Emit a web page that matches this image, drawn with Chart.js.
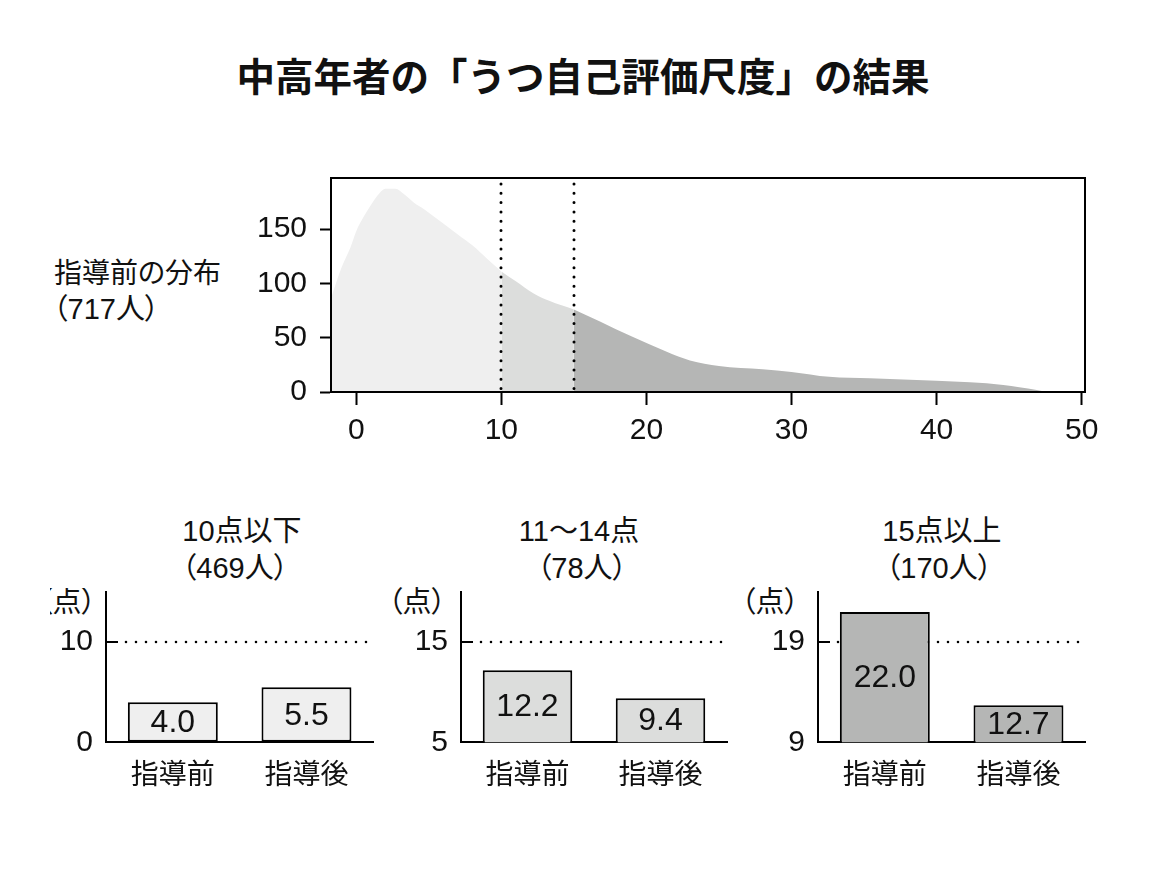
<!DOCTYPE html>
<html><head><meta charset="utf-8">
<script src="https://cdn.jsdelivr.net/npm/chart.js@4"></script>
<style>
body{margin:0;background:#fff;width:1166px;height:881px;position:relative;overflow:hidden;font-family:'Liberation Sans','Noto Sans CJK JP',sans-serif;color:#111}
.t{position:absolute;white-space:nowrap;line-height:1;font-size:29px;font-feature-settings:"palt"}
.c{transform:translateX(-50%)}
.box{position:absolute}
</style></head><body>
<div class="t c" style="left:583px;top:55px;font-size:38.5px;font-weight:bold;font-family:'Noto Sans CJK JP',sans-serif;font-feature-settings:normal">中高年者の「うつ自己評価尺度」の結果</div>
<div class="t" style="left:54px;top:260px;font-size:28px">指導前の分布</div>
<div class="t" style="left:53px;top:295px">（717人）</div>
<div class="box" style="left:0;top:150px;width:1166px;height:310px"><canvas id="dist"></canvas></div>
<div id="bars"></div>
<script>
// ---- distribution (before guidance, 717 people) ----
const scoreX = [-1.7,-1.0,-0.4,0,0.5,1.0,1.6,2.0,2.7,3.3,4.0,4.7,6.0,7.0,8.0,9.0,10.0,11.0,12.2,13.3,15.0,16.8,19.0,21.4,23.0,25.0,28.0,30.0,32.6,35.4,40.0,42.3,44.6,45.7,46.9,47.6];
const countY = [88,115,133,148,161,172,183,187,187,182,174,168,155,145,135,123,111,102,91,84,76,65,51,37,29,24,21,18.5,14,12.6,10.4,8.9,6.5,4.3,1.8,0];
const cutoffs = [10, 15];
const distXTicks = [0,10,20,30,40,50];
const distYTicks = [0,50,100,150];
// ---- group comparison ----
const groupNames = ['10点以下','11〜14点','15点以上'];
const groupCounts = ['（469人）','（78人）','（170人）'];
const phases = ['指導前','指導後'];
const beforeScores = [4.0, 12.2, 22.0];
const afterScores = [5.5, 9.4, 12.7];
const refValues = [10, 15, 19];
const axisMins = [0, 5, 9];
const axisMaxs = [15, 20, 24];
const shades = ['#efefef','#dcdddc','#b5b6b5'];

const NUM_FONT = "'Liberation Sans', 'Noto Sans CJK JP', sans-serif";
Chart.defaults.font.family = "'Noto Sans CJK JP', sans-serif";
Chart.defaults.font.size = 28;
Chart.defaults.color = '#111';
Chart.defaults.animation = false;
Chart.defaults.responsive = true;
Chart.defaults.maintainAspectRatio = false;

const pts = scoreX.map((x,i)=>({x, y: countY[i]}));
const bounds = [-Infinity, ...cutoffs, Infinity];
const areaSets = shades.map((c,i)=>({
  type:'line',
  data: pts.filter(p=>p.x>=bounds[i] && p.x<=bounds[i+1]),
  fill:'origin', backgroundColor:c, borderWidth:0, pointRadius:0,
  cubicInterpolationMode:'monotone'
}));

const boxAndCuts = {
  id:'boxAndCuts',
  afterDatasetsDraw(chart){
    const {ctx, chartArea:a, scales:{x}} = chart;
    ctx.save();
    ctx.strokeStyle='#000'; ctx.lineWidth=3; ctx.lineCap='round';
    ctx.setLineDash([0,9.3]);
    cutoffs.forEach(v=>{
      const px = Math.round(x.getPixelForValue(v));
      ctx.beginPath(); ctx.moveTo(px, a.top+6); ctx.lineTo(px, a.bottom); ctx.stroke();
    });
    ctx.setLineDash([]); ctx.lineWidth=2; ctx.lineCap='butt';
    ctx.strokeRect(a.left, a.top, a.right-a.left, a.bottom-a.top);
    ctx.restore();
  }
};
function noPad(s){ s.paddingTop = 0; s.paddingBottom = 0; s.paddingLeft = 0; s.paddingRight = 0; }

new Chart(document.getElementById('dist'), {
  type:'line',
  data:{datasets: areaSets},
  options:{
    layout:{padding:{top:28,right:81,left:0,bottom:0}},
    plugins:{legend:{display:false},tooltip:{enabled:false}},
    scales:{
      x:{type:'linear', min:-1.74, max:50.23,
        afterBuildTicks(s){ s.ticks = distXTicks.map(v=>({value:v})); },
        afterFit(s){ s.height = 68; noPad(s); },
        ticks:{padding:8, maxRotation:0, font:{family:NUM_FONT, size:30}},
        grid:{drawOnChartArea:false, drawTicks:true, tickLength:13, tickWidth:2, tickColor:'#000'},
        border:{display:true,color:'#000',width:2}},
      y:{type:'linear', min:0, max:197,
        afterBuildTicks(s){ s.ticks = distYTicks.map(v=>({value:v})); },
        afterFit(s){ s.width = 331; noPad(s); },
        ticks:{padding:13, font:{family:NUM_FONT, size:30}},
        grid:{drawOnChartArea:false, drawTicks:true, tickLength:11, tickWidth:2, tickColor:'#000'},
        border:{display:true,color:'#000',width:2}}
    }
  },
  plugins:[boxAndCuts]
});

// ---- bar charts ----
const areas = [[105.7,373],[460.7,726.7],[817.7,1085]];
const titleCenters = [[242,235],[579,582],[942,939]];
const unitLeft = [38,388,741];
const barsHost = document.getElementById('bars');

const refPlugin = {
  id:'refLine',
  beforeDatasetsDraw(chart, args, opts){
    const {ctx, chartArea:a, scales:{y}} = chart;
    const py = Math.round(y.getPixelForValue(opts.value));
    ctx.save();
    ctx.strokeStyle='#000'; ctx.lineWidth=2;
    ctx.beginPath(); ctx.moveTo(a.left, py); ctx.lineTo(a.left+12, py); ctx.stroke();
    ctx.lineCap='round'; ctx.lineWidth=2.6; ctx.setLineDash([0,10]);
    ctx.beginPath(); ctx.moveTo(a.left+20, py); ctx.lineTo(a.right, py); ctx.stroke();
    ctx.restore();
  }
};
const valuePlugin = {
  id:'values',
  afterDatasetsDraw(chart){
    const {ctx, scales:{y}} = chart;
    const meta = chart.getDatasetMeta(0);
    const basePx = y.getPixelForValue(y.min);
    ctx.save();
    ctx.fillStyle='#111'; ctx.font = "32px " + NUM_FONT;
    ctx.textAlign='center'; ctx.textBaseline='middle';
    meta.data.forEach((bar,i)=>{
      const v = chart.data.datasets[0].data[i];
      ctx.fillText(v.toFixed(1), bar.x, (bar.y+basePx)/2 + 1);
    });
    ctx.restore();
  }
};

groupNames.forEach((g,i)=>{
  const [L,R] = areas[i];
  const top = 570, bottom = 742.3, boxTop = 592, hostBottom = 810;
  const left = L - 70, width = R - L + 80;
  const t1 = document.createElement('div'); t1.className='t c';
  t1.style.left = titleCenters[i][0]+'px'; t1.style.top='517px'; t1.textContent = g;
  const t2 = document.createElement('div'); t2.className='t c';
  t2.style.left = titleCenters[i][1]+'px'; t2.style.top='554px'; t2.textContent = groupCounts[i];
  const u = document.createElement('div'); u.className='t';
  u.style.left = unitLeft[i]+'px'; u.style.top='588px'; u.textContent = '（点）';
  if (i===0){ u.style.clipPath='inset(0 0 0 12px)'; }
  barsHost.append(t1,t2,u);
  const wrap = document.createElement('div'); wrap.className='box';
  wrap.style.left = left+'px'; wrap.style.top = top+'px';
  wrap.style.width = width+'px'; wrap.style.height = (hostBottom-top)+'px';
  const cv = document.createElement('canvas'); wrap.appendChild(cv); barsHost.appendChild(wrap);
  new Chart(cv, {
    type:'bar',
    data:{labels: phases, datasets:[{
      data:[beforeScores[i], afterScores[i]],
      backgroundColor: shades[i], borderColor:'#000', borderWidth:2, borderSkipped:false,
      barPercentage:0.673, categoryPercentage:1
    }]},
    options:{
      layout:{padding:{top: boxTop-top, right:10, left:0, bottom:0}},
      plugins:{legend:{display:false},tooltip:{enabled:false}, refLine:{value: refValues[i]}},
      scales:{
        x:{afterFit(s){ s.height = hostBottom - bottom; noPad(s); },
          ticks:{padding:14},
          grid:{display:true, drawOnChartArea:false, drawTicks:false},
          border:{display:true,color:'#000',width:2}},
        y:{min:axisMins[i], max:axisMaxs[i],
          afterBuildTicks(s){ s.ticks = [{value:axisMins[i]},{value:refValues[i]}]; },
          afterFit(s){ s.width = 70; noPad(s); },
          ticks:{padding:13, font:{family:NUM_FONT, size:30}},
          grid:{display:true, drawOnChartArea:false, drawTicks:false},
          border:{display:true,color:'#000',width:2}}
      }
    },
    plugins:[refPlugin, valuePlugin]
  });
});
</script>
</body></html>
